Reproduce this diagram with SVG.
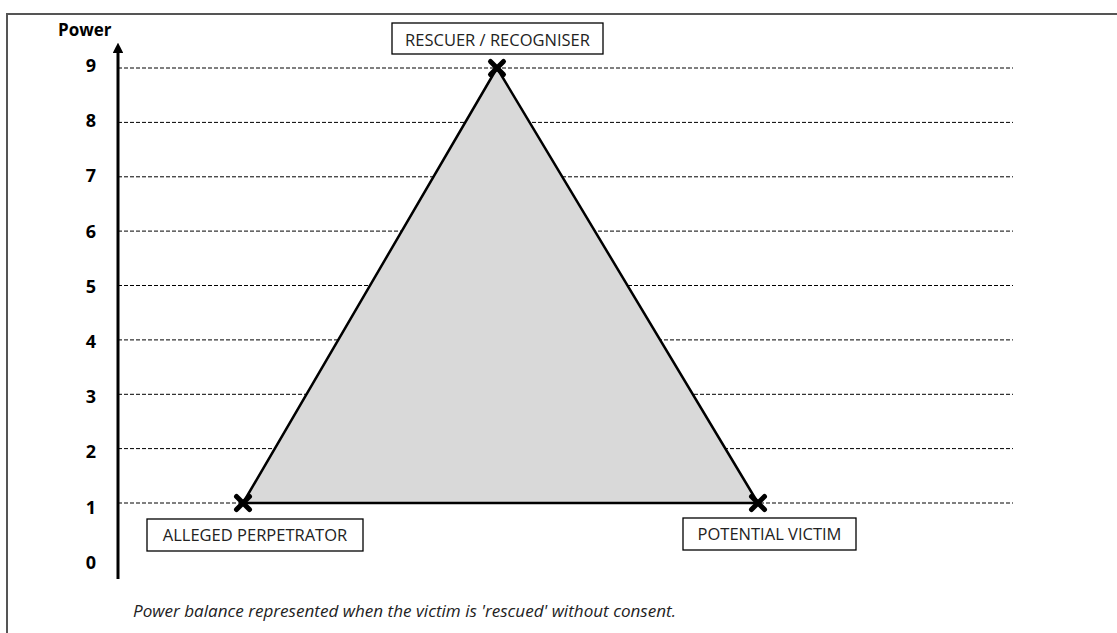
<svg xmlns="http://www.w3.org/2000/svg" width="1117" height="633" viewBox="0 0 1117 633">
  <style>
    .frame { fill: #ffffff; stroke: #555555; stroke-width: 2; }
    .grid { stroke: #000000; stroke-width: 1; stroke-dasharray: 4 2; fill: none; }
    .axis { stroke: #000000; stroke-width: 3; fill: none; }
    .tick { font-family: "Open Sans", "Liberation Sans", sans-serif; font-weight: bold; font-size: 18px; fill: #000000; text-anchor: middle; }
    .title { font-family: "Open Sans", "Liberation Sans", sans-serif; font-weight: bold; font-size: 17px; fill: #000000; }
    .box { fill: #ffffff; stroke: #000000; stroke-width: 1.3; }
    .lbl { font-family: "Open Sans", "Liberation Sans", sans-serif; font-size: 16.5px; fill: #222222; text-anchor: middle; }
    .cross { stroke: #000000; stroke-width: 5; stroke-linecap: round; }
    .caption { font-family: "Open Sans", "Liberation Sans", sans-serif; font-style: italic; font-size: 16px; fill: #222222; }
  </style>
  <defs>
    <marker id="arrow" viewBox="0 0 10 10" refX="5" refY="5" markerWidth="3.6" markerHeight="3.6" orient="auto">
      <path d="M0,0 L10,5 L0,10 z" fill="#000000"/>
    </marker>
    <g id="x">
      <line class="cross" x1="-6.5" y1="-6.5" x2="6.5" y2="6.5"/>
      <line class="cross" x1="-6.5" y1="6.5" x2="6.5" y2="-6.5"/>
    </g>
  </defs>

  <rect x="0" y="0" width="1117" height="633" fill="#ffffff"/>
  <rect class="frame" x="7" y="14" width="1120" height="630"/>

  <!-- power scale -->
  <g id="scale">
    <g class="grid">
      <line x1="118" y1="68" x2="1013" y2="68"/>
      <line x1="118" y1="122.4" x2="1013" y2="122.4"/>
      <line x1="118" y1="176.8" x2="1013" y2="176.8"/>
      <line x1="118" y1="231.1" x2="1013" y2="231.1"/>
      <line x1="118" y1="285.5" x2="1013" y2="285.5"/>
      <line x1="118" y1="339.9" x2="1013" y2="339.9"/>
      <line x1="118" y1="394.3" x2="1013" y2="394.3"/>
      <line x1="118" y1="448.6" x2="1013" y2="448.6"/>
      <line x1="118" y1="503" x2="1013" y2="503"/>
    </g>
    <line class="axis" x1="118" y1="579" x2="118" y2="48" marker-end="url(#arrow)"/>
    <text class="title" x="58" y="36">Power</text>
    <text class="tick" x="91" y="72">9</text>
    <text class="tick" x="91" y="127.2">8</text>
    <text class="tick" x="91" y="182.4">7</text>
    <text class="tick" x="91" y="237.6">6</text>
    <text class="tick" x="91" y="292.8">5</text>
    <text class="tick" x="91" y="348">4</text>
    <text class="tick" x="91" y="403.2">3</text>
    <text class="tick" x="91" y="458.4">2</text>
    <text class="tick" x="91" y="513.6">1</text>
    <text class="tick" x="91" y="569">0</text>
  </g>

  <!-- connectors: triangle edges -->
  <g id="connectors">
    <polygon points="497,68 243,503 758,503" fill="#d9d9d9" stroke="#000000" stroke-width="2.5" stroke-linejoin="round"/>
  </g>

  <g id="rescuer">
    <use href="#x" x="497" y="68"/>
    <rect class="box" x="392" y="23" width="211" height="31"/>
    <text class="lbl" x="497.5" y="46">RESCUER / RECOGNISER</text>
  </g>

  <g id="perpetrator">
    <use href="#x" x="243" y="503"/>
    <rect class="box" x="147" y="519" width="216" height="32"/>
    <text class="lbl" x="255" y="541">ALLEGED PERPETRATOR</text>
  </g>

  <g id="victim">
    <use href="#x" x="758" y="503"/>
    <rect class="box" x="683" y="518" width="173" height="32"/>
    <text class="lbl" x="769.5" y="540">POTENTIAL VICTIM</text>
  </g>

  <text class="caption" x="133" y="617" textLength="543" lengthAdjust="spacingAndGlyphs">Power balance represented when the victim is 'rescued' without consent.</text>
</svg>
